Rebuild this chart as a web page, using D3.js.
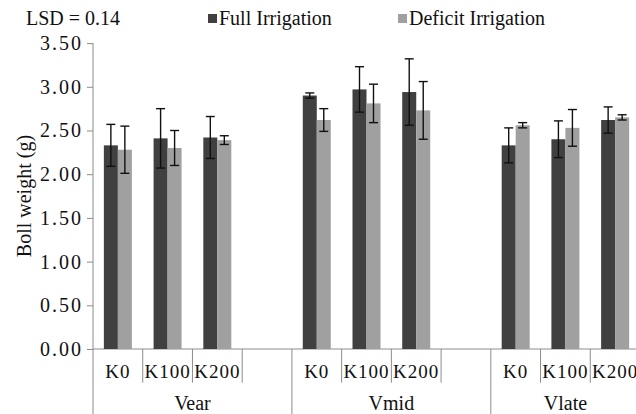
<!DOCTYPE html>
<html>
<head>
<meta charset="utf-8">
<script src="https://cdn.jsdelivr.net/npm/d3@7"></script>
<style>
  body { margin: 0; background: #fff; }
  svg { font-family: "Liberation Serif", "Times New Roman", serif; }
</style>
</head>
<body>
<div id="chart"></div>
<script>
// values
var groups = ["Vear", "Vmid", "Vlate"];
var levels = ["K0", "K100", "K200"];
var seriesNames = ["Full Irrigation", "Deficit Irrigation"];
var fullMean = [2.33, 2.41, 2.42, 2.90, 2.97, 2.94, 2.33, 2.40, 2.62];
var fullErr = [0.24, 0.34, 0.24, 0.03, 0.26, 0.38, 0.20, 0.21, 0.15];
var deficitMean = [2.28, 2.30, 2.39, 2.62, 2.81, 2.73, 2.56, 2.53, 2.65];
var deficitErr = [0.27, 0.20, 0.05, 0.13, 0.22, 0.33, 0.03, 0.21, 0.03];
var yTicks = [0, 0.5, 1, 1.5, 2, 2.5, 3, 3.5];
var lsdText = "LSD = 0.14";

var width = 636, height = 414;
var colors = ["#404040", "#a0a0a0"];

// slots: three levels per group, plus an empty slot between groups
var slots = [];
groups.forEach(function (g, gi) {
  levels.forEach(function (k) { slots.push(g + "|" + k); });
  if (gi < groups.length - 1) slots.push(g + "|gap");
});

var rows = [];
groups.forEach(function (g, gi) {
  levels.forEach(function (k, ki) {
    var i = gi * levels.length + ki;
    rows.push({ group: g, level: k, slot: g + "|" + k,
      values: [
        { s: seriesNames[0], v: fullMean[i], e: fullErr[i] },
        { s: seriesNames[1], v: deficitMean[i], e: deficitErr[i] }
      ] });
  });
});

var svg = d3.select("#chart").append("svg")
  .attr("width", width).attr("height", height);
svg.append("rect").attr("width", width).attr("height", height).attr("fill", "#fff");

var x = d3.scaleBand().domain(slots).range([93, 640]).padding(0);
var y = d3.scaleLinear().domain([0, 3.5]).range([349, 43.1]);
var inner = d3.scaleBand().domain(seriesNames).range([0, 28]).padding(0);
var barOffset = (x.bandwidth() - 28) / 2;

// y axis
var yAxis = svg.append("g")
  .attr("transform", "translate(93,0)")
  .call(d3.axisLeft(y).tickValues(yTicks).tickFormat(d3.format(".2f")).tickSize(6).tickPadding(4));
yAxis.select(".domain").remove();
yAxis.selectAll(".tick line").attr("stroke", "#8c8c8c");
yAxis.selectAll("text").attr("font-size", 20).attr("fill", "#111")
  .attr("font-family", "Liberation Serif").style("letter-spacing", "2px");

svg.append("line").attr("x1", 93).attr("x2", 93).attr("y1", y(3.5)).attr("y2", height)
  .attr("stroke", "#8c8c8c");
svg.append("line").attr("x1", 93).attr("x2", 640).attr("y1", y(0)).attr("y2", y(0))
  .attr("stroke", "#8c8c8c");

// slot separators below the axis
slots.forEach(function (s, i) {
  if (i === 0) return;
  var groupEdge = slots[i - 1].split("|")[1] === "gap";
  svg.append("line")
    .attr("x1", x(s)).attr("x2", x(s))
    .attr("y1", y(0)).attr("y2", groupEdge ? height : 382.7)
    .attr("stroke", "#8c8c8c");
});

// bars
var slotG = svg.selectAll(".slot").data(rows).enter().append("g")
  .attr("class", "slot")
  .attr("transform", function (d) { return "translate(" + (x(d.slot) + barOffset) + ",0)"; });

slotG.selectAll("rect").data(function (d) { return d.values; }).enter().append("rect")
  .attr("x", function (d) { return inner(d.s); })
  .attr("width", inner.bandwidth())
  .attr("y", function (d) { return y(d.v); })
  .attr("height", function (d) { return y(0) - y(d.v); })
  .attr("fill", function (d, i) { return colors[i]; });

// error bars
var errG = slotG.selectAll(".err").data(function (d) { return d.values; }).enter().append("g")
  .attr("class", "err")
  .attr("stroke", "#111").attr("stroke-width", 1.4);
errG.append("line")
  .attr("x1", function (d) { return inner(d.s) + inner.bandwidth() / 2; })
  .attr("x2", function (d) { return inner(d.s) + inner.bandwidth() / 2; })
  .attr("y1", function (d) { return y(d.v + d.e); })
  .attr("y2", function (d) { return y(d.v - d.e); });
[1, -1].forEach(function (sign) {
  errG.append("line")
    .attr("x1", function (d) { return inner(d.s) + inner.bandwidth() / 2 - 4.5; })
    .attr("x2", function (d) { return inner(d.s) + inner.bandwidth() / 2 + 4.5; })
    .attr("y1", function (d) { return y(d.v + sign * d.e); })
    .attr("y2", function (d) { return y(d.v + sign * d.e); });
});

// category labels
svg.selectAll(".lvl").data(rows).enter().append("text")
  .attr("class", "lvl")
  .attr("x", function (d) { return x(d.slot) + x.bandwidth() / 2; })
  .attr("y", 378)
  .attr("text-anchor", "middle")
  .attr("font-size", 19)
  .style("letter-spacing", "1px")
  .attr("fill", "#111")
  .text(function (d) { return d.level; });

svg.selectAll(".grp").data(groups).enter().append("text")
  .attr("class", "grp")
  .attr("x", function (g) {
    var first = x(g + "|K0");
    var last = x(g + "|K200") + x.bandwidth();
    var end = slots.indexOf(g + "|gap") >= 0 ? x(g + "|gap") + x.bandwidth() : last;
    return (first + end) / 2;
  })
  .attr("y", 410)
  .attr("text-anchor", "middle")
  .attr("font-size", 20)
  .attr("fill", "#111")
  .text(function (g) { return g; });

// y label
svg.append("text")
  .attr("transform", "translate(31," + ((y(0) + y(3.5)) / 2) + ") rotate(-90)")
  .attr("text-anchor", "middle")
  .attr("font-size", 20)
  .attr("fill", "#111")
  .text("Boll weight (g)");

// LSD note and legend
svg.append("text").attr("x", 26).attr("y", 25).attr("font-size", 20).attr("fill", "#111").text(lsdText);

var legendX = [208, 398];
var leg = svg.selectAll(".leg").data(seriesNames).enter().append("g")
  .attr("class", "leg")
  .attr("transform", function (d, i) { return "translate(" + legendX[i] + ",0)"; });
leg.append("rect").attr("x", 0).attr("y", 14).attr("width", 9).attr("height", 9)
  .attr("fill", function (d, i) { return colors[i]; });
leg.append("text").attr("x", 11).attr("y", 25).attr("font-size", 20).attr("fill", "#111")
  .text(function (d) { return d; });
</script>
</body>
</html>
